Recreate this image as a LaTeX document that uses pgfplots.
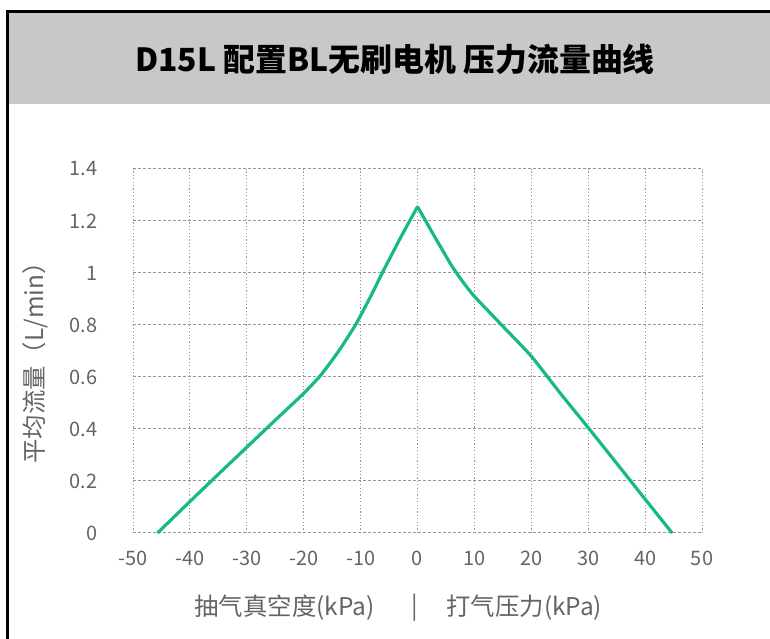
\documentclass[border=0pt]{standalone}
\usepackage{fontspec}
\setmainfont{Noto Sans CJK SC}
\usepackage{pgfplots}
\pgfplotsset{compat=1.18}

\definecolor{curvegreen}{RGB}{22,186,130}
\definecolor{band}{RGB}{200,200,200}
\definecolor{labelgray}{RGB}{100,100,100}
\definecolor{gridgray}{RGB}{150,150,150}

\begin{document}
\begin{tikzpicture}[x=1bp,y=1bp]
  \useasboundingbox (0,0) rectangle (770,639);
  % title band and frame
  \fill[band] (8,535) rectangle (775,626);
  \draw[line width=3bp] (7,-10) -- (7,627) -- (780,627);
  \node[font=\fontsize{32}{34}\selectfont\bfseries] at (395,580) {D15L 配置BL无刷电机 压力流量曲线};

  \begin{axis}[
      at={(133bp,106bp)}, anchor=south west,
      scale only axis,
      width=569bp, height=364bp,
      xmin=-50, xmax=50,
      ymin=0, ymax=1.4,
      xtick={-50,-40,...,50},
      ytick={0,0.2,0.4,0.6,0.8,1,1.2,1.4},
      grid=major,
      x grid style={gridgray, line width=1bp, dash pattern=on 1.2bp off 2.2bp},
      y grid style={gridgray, line width=1bp, dash pattern=on 3bp off 2bp},
      axis line style={draw=none},
      major tick length=0pt,
      ticklabel style={font=\fontsize{20}{22}\selectfont, text=labelgray},
      /pgf/number format/assume math mode=true,
      yticklabel style={xshift=-32bp},
      xticklabel style={yshift=-15bp},
      clip=false,
    ]
    % 抽气 (vacuum) side
    \addplot[curvegreen, line width=3.2bp, smooth, tension=0.3] coordinates {
      (-45.7,0) (-40,0.121) (-35,0.226) (-30,0.33) (-25,0.434)
      (-20,0.537) (-17,0.607) (-14,0.695) (-10.9,0.8) (-8,0.92)
      (-6.2,1.0) (-3,1.135) (0,1.255)
    };
    % 打气 (pressure) side
    \addplot[curvegreen, line width=3.2bp, smooth, tension=0.3] coordinates {
      (0,1.255) (3,1.14) (6,1.028) (8,0.965) (10,0.91) (15,0.795)
      (20,0.68) (25,0.54) (30,0.405) (35,0.268) (40,0.13)
      (44.75,0)
    };

    \node[font=\fontsize{24.5}{27}\selectfont, text=labelgray, anchor=east]
      at (rel axis cs:0.4306,-0.206) {抽气真空度(kPa)};
    \node[font=\fontsize{24.5}{27}\selectfont, text=labelgray]
      at (rel axis cs:0.4956,-0.206) {|};
    \node[font=\fontsize{24.5}{27}\selectfont, text=labelgray, anchor=west]
      at (rel axis cs:0.5448,-0.206) {打气压力(kPa)};
    \node[font=\fontsize{24.5}{27}\selectfont, text=labelgray, rotate=90]
      at (rel axis cs:-0.172,0.4835) {平均流量（L/min）};
  \end{axis}
\end{tikzpicture}
\end{document}
